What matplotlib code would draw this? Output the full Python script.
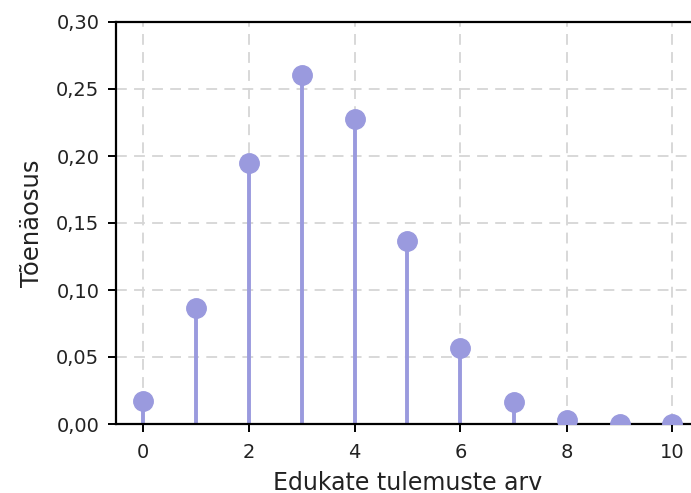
import matplotlib.pyplot as plt
from matplotlib.ticker import FuncFormatter, MultipleLocator

plt.rcParams['font.family'] = ['DejaVu Sans']

successes = [0, 1, 2, 3, 4, 5, 6, 7, 8, 9, 10]
probability = [0.0173, 0.0867, 0.1951, 0.2601, 0.2276, 0.1366, 0.0569, 0.0163, 0.0030, 0.0003, 0.0000]

color = '#9a9ade'

fig = plt.figure(figsize=(6.91, 4.93), dpi=100)
ax = fig.add_axes([116 / 691, 69 / 493, 583 / 691, 402 / 493])

ax.vlines(successes, 0, probability, color=color, linewidth=2.8, zorder=2)
ax.plot(successes, probability, 'o', color=color, markersize=14, zorder=3)

ax.set_xlim(-0.5, 10.5)
ax.set_ylim(0, 0.30)
ax.xaxis.set_major_locator(MultipleLocator(2))
ax.yaxis.set_major_locator(MultipleLocator(0.05))
ax.yaxis.set_major_formatter(FuncFormatter(lambda v, p: f'{v:.2f}'.replace('.', ',')))

ax.grid(True, linestyle=(0, (6, 4)), color='#d6d6d6', linewidth=1.3, zorder=0)
ax.set_axisbelow(True)
for s in ax.spines.values():
    s.set_linewidth(1.6)
    s.set_color('black')
ax.tick_params(direction='out', length=6, width=1.4, labelsize=14, colors='black',
               labelcolor='#222222', pad=6)
ax.tick_params(axis='x', pad=8)

ax.set_xlabel('Edukate tulemuste arv', fontsize=17, labelpad=6, color='#222222')
ax.set_ylabel('Tõenäosus', fontsize=17.5, labelpad=9, color='#222222')

fig.savefig('out.png', dpi=100)
